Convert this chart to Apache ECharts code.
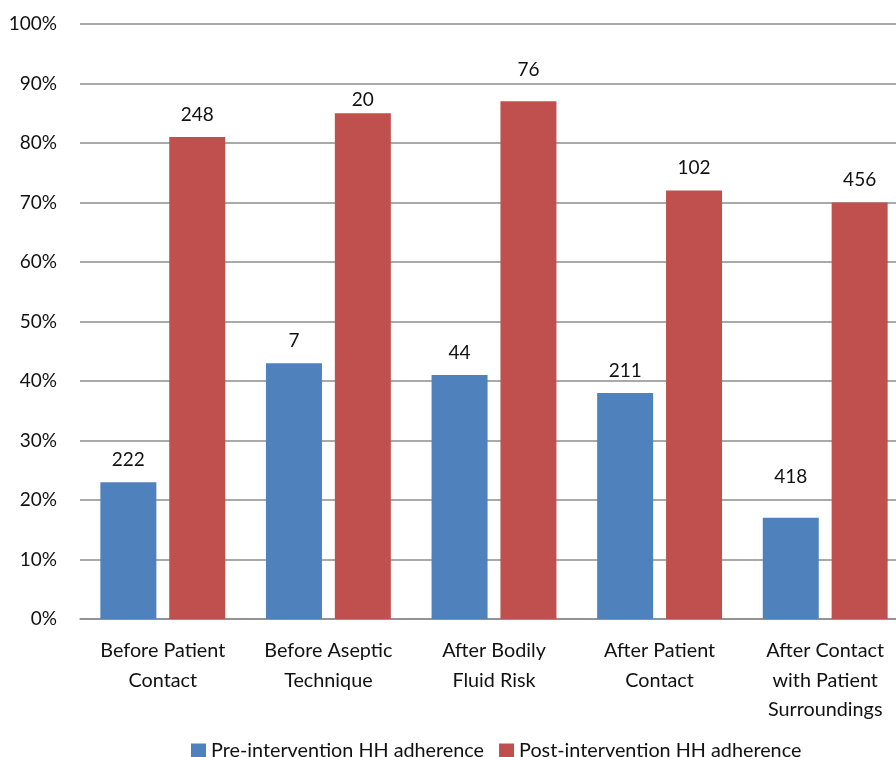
<!DOCTYPE html>
<html>
<head>
<meta charset="utf-8">
<script src="https://cdn.jsdelivr.net/npm/echarts@6/dist/echarts.min.js"></script>
<style>
  html, body { margin: 0; padding: 0; background: #fff; }
  #chart { width: 896px; height: 757px; }
</style>
</head>
<body>
<div id="chart"></div>
<script>
// categories and values
var categories = ['Before Patient\nContact', 'Before Aseptic\nTechnique', 'After Bodily\nFluid Risk',
    'After Patient\nContact', 'After Contact\nwith Patient\nSurroundings']
var preValues = [23, 43, 41, 38, 17]
var postValues = [81, 85, 87, 72, 70]
// numbers written above the bars
var preCounts = [222, 7, 44, 211, 418]
var postCounts = [248, 20, 76, 102, 456]
var yTicks = [0, 10, 20, 30, 40, 50, 60, 70, 80, 90, 100]

var fontFamily = 'Lato, "Open Sans", sans-serif'

// some labels in the source sit higher/lower than the rest
var preLift = [0, 0, 0, 0, 18]
var postLift = [0, -9, 9, 0, 0]

function barSeries(name, values, counts, lift, color) {
    return {
        name: name,
        type: 'bar',
        barWidth: 56,
        barGap: '23%',
        data: values.map((v, i) => ({
            value: v,
            label: { offset: [0, -lift[i]] }
        })),
        itemStyle: { color: color },
        label: {
            show: true,
            position: 'top',
            distance: 13,
            color: '#111',
            fontSize: 19,
            fontFamily: fontFamily,
            formatter: function (p) { return counts[p.dataIndex] }
        }
    }
}

var myChart = echarts.init(document.getElementById('chart'))

let option = {
    animation: false,
    textStyle: { fontFamily: fontFamily },
    grid: {
        left: 80,
        width: 828,
        top: 24,
        bottom: 138,
        outerBoundsMode: 'none'
    },
    legend: {
        left: 186,
        top: 736,
        itemWidth: 15,
        itemHeight: 15,
        itemGap: 15,
        icon: 'rect',
        textStyle: { fontSize: 19.8, color: '#111', fontFamily: fontFamily }
    },
    xAxis: {
        type: 'category',
        data: categories,
        axisTick: { show: false },
        axisLine: { lineStyle: { color: '#8c8c8c', width: 1.5 } },
        axisLabel: {
            interval: 0,
            margin: 17,
            fontSize: 19.8,
            lineHeight: 29.5,
            color: '#111',
            fontFamily: fontFamily
        }
    },
    yAxis: {
        type: 'value',
        min: yTicks[0],
        max: yTicks[yTicks.length - 1],
        interval: yTicks[1] - yTicks[0],
        axisLine: { show: false },
        axisTick: { show: false },
        axisLabel: {
            margin: 23,
            fontSize: 19,
            color: '#111',
            fontFamily: fontFamily,
            formatter: '{value}%'
        },
        splitLine: { lineStyle: { color: '#8c8c8c', width: 1.5 } }
    },
    series: [
        barSeries('Pre-intervention HH adherence', preValues, preCounts, preLift, '#4F81BD'),
        barSeries('Post-intervention HH adherence', postValues, postCounts, postLift, '#C0504D')
    ]
}

myChart.setOption(option)
</script>
</body>
</html>
